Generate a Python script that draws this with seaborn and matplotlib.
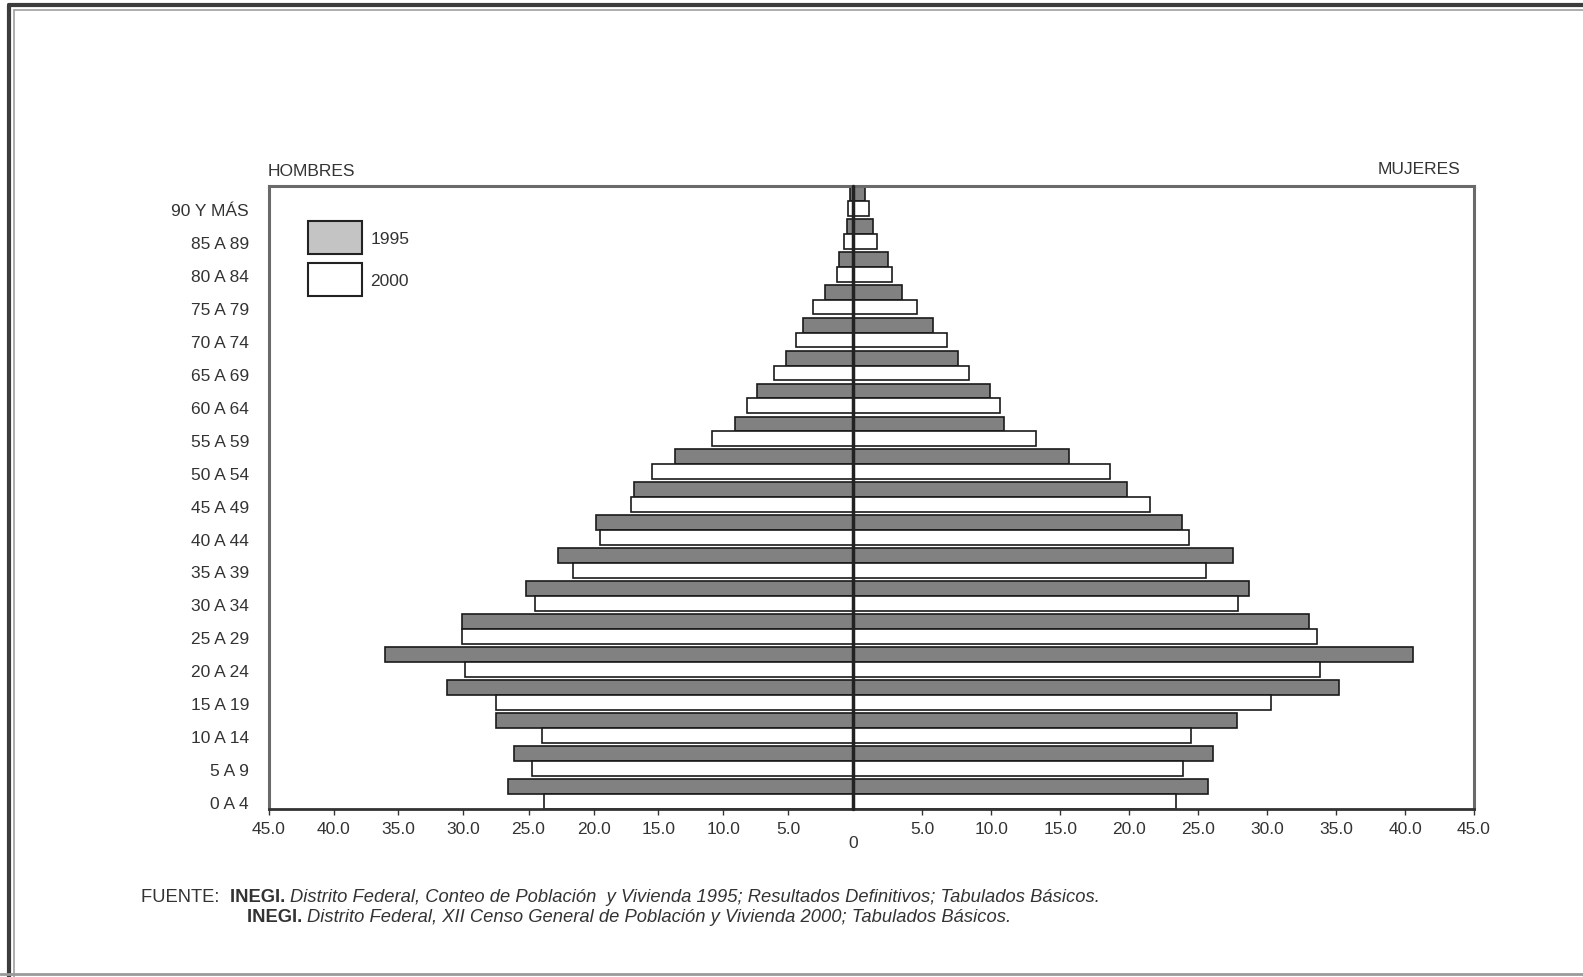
import matplotlib.pyplot as plt
import matplotlib.transforms as mtransforms
from matplotlib.lines import Line2D
from matplotlib.patches import Patch
import pandas as pd
import seaborn as sns

# age groups, top to bottom as drawn
edades = ['90 Y MÁS', '85 A 89', '80 A 84', '75 A 79', '70 A 74', '65 A 69',
          '60 A 64', '55 A 59', '50 A 54', '45 A 49', '40 A 44', '35 A 39',
          '30 A 34', '25 A 29', '20 A 24', '15 A 19', '10 A 14', '5 A 9', '0 A 4']

hombres_1995 = [0.3, 0.5, 1.1, 2.2, 3.9, 5.2, 7.4, 9.1, 13.7, 16.9, 19.8,
                22.7, 25.2, 30.1, 36.0, 31.3, 27.5, 26.1, 26.6]
hombres_2000 = [0.4, 0.7, 1.3, 3.1, 4.4, 6.1, 8.2, 10.9, 15.5, 17.1, 19.5,
                21.6, 24.5, 30.1, 29.9, 27.5, 24.0, 24.7, 23.8]
mujeres_1995 = [0.8, 1.4, 2.5, 3.5, 5.8, 7.6, 9.9, 10.9, 15.6, 19.8, 23.8,
                27.5, 28.7, 33.0, 40.6, 35.2, 27.8, 26.1, 25.7]
mujeres_2000 = [1.1, 1.7, 2.8, 4.6, 6.8, 8.4, 10.6, 13.2, 18.6, 21.5, 24.3,
                25.6, 27.9, 33.6, 33.8, 30.3, 24.5, 23.9, 23.4]

anios = ['1995', '2000']
colores = {'1995': '#818181', '2000': '#ffffff'}

df = pd.DataFrame({
    'edad': edades * 2,
    'anio': ['1995'] * len(edades) + ['2000'] * len(edades),
    'hombres': [-v for v in hombres_1995 + hombres_2000],
    'mujeres': mujeres_1995 + mujeres_2000,
})

sns.set_style('white')
plt.rcParams['font.family'] = ['Liberation Sans', 'DejaVu Sans']
fs = 12.5

W, H = 1583, 978
fig = plt.figure(figsize=(W / 100, H / 100), dpi=100)

x_left, x_zero, x_right = 268.5, 853.5, 1474
y_top, y_bot = 187, 809.5
ax_l = fig.add_axes([x_left / W, 1 - y_bot / H, (x_zero - x_left) / W, (y_bot - y_top) / H])
ax_r = fig.add_axes([x_zero / W, 1 - y_bot / H, (x_right - x_zero) / W, (y_bot - y_top) / H])

for ax, col in [(ax_l, 'hombres'), (ax_r, 'mujeres')]:
    sns.barplot(data=df, y='edad', x=col, hue='anio', order=edades, hue_order=anios,
                palette=colores, orient='h', width=0.9, errorbar=None,
                edgecolor='#1a1a1a', linewidth=1.2, legend=False, ax=ax)
    ax.set_ylim(len(edades) - 0.55, -0.45)
    ax.set_xlabel('')
    ax.set_ylabel('')

ax_l.set_xlim(-45, 0)
ax_r.set_xlim(0, 45)

tick_vals = [5, 10, 15, 20, 25, 30, 35, 40, 45]
ax_l.set_xticks([-v for v in tick_vals])
ax_l.set_xticklabels([f'{v:.1f}' for v in tick_vals])
ax_r.set_xticks([0] + tick_vals)
ax_r.set_xticklabels(['0'] + [f'{v:.1f}' for v in tick_vals])
for ax in (ax_l, ax_r):
    ax.tick_params(axis='x', direction='out', length=4, width=1, color='#333',
                   labelsize=fs, labelcolor='#333', pad=5, bottom=True)
ax_r.xaxis.get_major_ticks()[0].set_pad(15)
ax_r.xaxis.get_major_ticks()[0].tick1line.set_visible(False)

ax_l.tick_params(axis='y', length=0, labelsize=fs, labelcolor='#333', pad=14)
offset = mtransforms.ScaledTranslation(0, -6 / 72, fig.dpi_scale_trans)
for lab in ax_l.get_yticklabels():
    lab.set_transform(lab.get_transform() + offset)
ax_r.set_yticks([])

for ax, hide in [(ax_l, 'right'), (ax_r, 'left')]:
    ax.spines[hide].set_visible(False)
    for s in ('top', 'left', 'right'):
        ax.spines[s].set_color('#6a6a6a')
        ax.spines[s].set_linewidth(2.2)
    ax.spines['bottom'].set_color('#333')
    ax.spines['bottom'].set_linewidth(2)

ax_r.axvline(0, color='#222', lw=2.5, zorder=5, clip_on=False)

fig.text(268 / W, 1 - 171 / H, 'HOMBRES', fontsize=fs, color='#333', va='center')
fig.text(1460 / W, 1 - 169 / H, 'MUJERES', fontsize=fs, color='#333', va='center', ha='right')

handles = [Patch(facecolor='#c4c4c4', edgecolor='#222', linewidth=1.5),
           Patch(facecolor='white', edgecolor='#222', linewidth=1.5)]
ax_l.legend(handles, anios, loc='upper left', bbox_to_anchor=(0.0675, 0.944), frameon=False,
            fontsize=fs, handlelength=3.1, handleheight=2.55, labelspacing=0.55,
            handletextpad=0.5, borderpad=0, borderaxespad=0, labelcolor='#333')

# source note, mixed weights on one line
fig.canvas.draw()
renderer = fig.canvas.get_renderer()
fs_note = 13.2


def piece_line(x, y, pieces):
    for txt, weight, style in pieces:
        t = fig.text(x, y, txt, fontsize=fs_note, color='#333', fontweight=weight,
                     fontstyle=style, va='center', ha='left')
        bb = t.get_window_extent(renderer)
        x += bb.width / W


piece_line(141 / W, 1 - 898 / H, [
    ('FUENTE:  ', 'normal', 'normal'),
    ('INEGI. ', 'bold', 'normal'),
    ('Distrito Federal, Conteo de Población  y Vivienda 1995; Resultados Definitivos; Tabulados Básicos.', 'normal', 'italic'),
])
piece_line(247 / W, 1 - 918 / H, [
    ('INEGI. ', 'bold', 'normal'),
    ('Distrito Federal, XII Censo General de Población y Vivienda 2000; Tabulados Básicos.', 'normal', 'italic'),
])

# outer frame of the page
fig.add_artist(Line2D([9 / W, 1], [1 - 6 / H, 1 - 6 / H], color='#3c3c3c', lw=3))
fig.add_artist(Line2D([9 / W, 9 / W], [1 - 6 / H, 0], color='#3c3c3c', lw=3))
fig.add_artist(Line2D([14 / W, 1], [1 - 11 / H, 1 - 11 / H], color='#a0a0a0', lw=1.2))
fig.add_artist(Line2D([14 / W, 14 / W], [1 - 11 / H, 0], color='#a0a0a0', lw=1.2))
fig.add_artist(Line2D([0, 1], [1 - 975 / H, 1 - 975 / H], color='#9a9a9a', lw=2))

fig.savefig('out.png', dpi=100, facecolor='white')
